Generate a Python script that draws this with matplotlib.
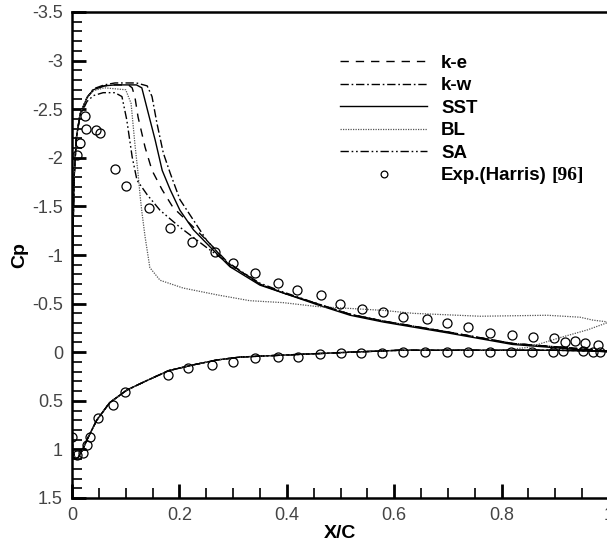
import numpy as np
import matplotlib
matplotlib.use('Agg')
import matplotlib.pyplot as plt
from matplotlib.ticker import MultipleLocator, FormatStrFormatter

plt.rcParams['font.family'] = ['Liberation Sans', 'DejaVu Sans']
plt.rcParams['axes.unicode_minus'] = False

# upper surface, leading edge -> trailing edge
ke_x = [0.0, 0.001, 0.004, 0.008, 0.015, 0.028, 0.04, 0.06, 0.08, 0.105, 0.112, 0.117, 0.123, 0.136,
        0.149, 0.168, 0.188, 0.22, 0.251, 0.289, 0.35, 0.393, 0.456, 0.518, 0.58, 0.698, 0.82, 0.914, 1.0]
ke_cp = [0.9, -1.0, -1.8, -2.2, -2.45, -2.62, -2.70, -2.74, -2.75, -2.75, -2.72, -2.63, -2.42, -2.11,
         -1.87, -1.67, -1.49, -1.32, -1.15, -0.93, -0.70, -0.61, -0.50, -0.39, -0.32, -0.21, -0.09, -0.05, -0.01]

kw_x = [0.0, 0.001, 0.004, 0.008, 0.015, 0.028, 0.04, 0.06, 0.08, 0.12, 0.14, 0.149, 0.158, 0.17,
        0.183, 0.201, 0.226, 0.251, 0.289, 0.35, 0.393, 0.456, 0.518, 0.58, 0.698, 0.82, 0.914, 1.0]
kw_cp = [0.9, -1.0, -1.8, -2.2, -2.45, -2.62, -2.71, -2.75, -2.77, -2.77, -2.74, -2.63, -2.36, -2.05,
         -1.84, -1.57, -1.36, -1.15, -0.92, -0.70, -0.61, -0.50, -0.39, -0.32, -0.21, -0.09, -0.05, -0.01]

sst_x = [0.0, 0.001, 0.004, 0.008, 0.015, 0.028, 0.04, 0.06, 0.08, 0.12, 0.13, 0.142, 0.155, 0.168,
         0.183, 0.201, 0.226, 0.263, 0.294, 0.35, 0.393, 0.456, 0.518, 0.58, 0.698, 0.82, 0.914, 1.0]
sst_cp = [0.9, -1.0, -1.8, -2.2, -2.45, -2.62, -2.70, -2.74, -2.75, -2.75, -2.72, -2.46, -2.18, -1.87,
          -1.67, -1.46, -1.26, -1.05, -0.88, -0.69, -0.61, -0.49, -0.38, -0.31, -0.20, -0.08, -0.04, 0.0]

bl_x = [0.0, 0.001, 0.004, 0.008, 0.015, 0.028, 0.04, 0.06, 0.1, 0.11, 0.117, 0.123, 0.127, 0.13,
        0.136, 0.145, 0.164, 0.207, 0.27, 0.331, 0.393, 0.456, 0.518, 0.58, 0.635, 0.76, 0.885,
        0.946, 0.97, 1.0]
bl_cp = [0.9, -1.0, -1.8, -2.2, -2.45, -2.62, -2.69, -2.72, -2.70, -2.56, -2.15, -1.84, -1.6, -1.45,
         -1.19, -0.87, -0.74, -0.66, -0.59, -0.53, -0.51, -0.47, -0.45, -0.43, -0.40, -0.37, -0.38,
         -0.36, -0.33, -0.31]

sa_x = [0.0, 0.001, 0.004, 0.008, 0.015, 0.028, 0.04, 0.058, 0.08, 0.093, 0.102, 0.112, 0.121, 0.14,
        0.164, 0.2, 0.25, 0.29, 0.35, 0.393, 0.456, 0.518, 0.58, 0.698, 0.82, 0.914, 1.0]
sa_cp = [0.9, -1.0, -1.8, -2.2, -2.43, -2.58, -2.64, -2.67, -2.67, -2.63, -2.39, -2.01, -1.77, -1.62,
         -1.46, -1.29, -1.08, -0.92, -0.71, -0.62, -0.50, -0.39, -0.32, -0.21, -0.09, -0.05, -0.01]

# lower surface (common to all models), BL deviates near trailing edge
low_x = [0.0, 0.002, 0.006, 0.012, 0.02, 0.028, 0.046, 0.07, 0.102, 0.14, 0.18, 0.226, 0.27,
         0.313, 0.393, 0.518, 0.61, 0.8, 0.9, 1.0]
low_cp = [0.9, 1.02, 1.1, 1.08, 1.0, 0.9, 0.70, 0.52, 0.39, 0.29, 0.19, 0.13, 0.08,
          0.05, 0.03, 0.0, -0.02, -0.02, -0.02, -0.01]
bl_low_x = [0.0, 0.002, 0.006, 0.012, 0.02, 0.028, 0.046, 0.07, 0.102, 0.14, 0.18, 0.226, 0.27,
            0.313, 0.393, 0.518, 0.61, 0.8, 0.85, 0.909, 0.96, 1.0]
bl_low_cp = [0.9, 1.02, 1.1, 1.08, 1.0, 0.9, 0.70, 0.52, 0.39, 0.29, 0.19, 0.13, 0.08,
             0.05, 0.03, 0.0, -0.02, -0.02, -0.05, -0.15, -0.23, -0.31]

# experiment (Harris)
exp_x = [0.009, 0.015, 0.024, 0.026, 0.044, 0.053, 0.081, 0.10, 0.143, 0.183, 0.223, 0.266, 0.30,
         0.341, 0.384, 0.419, 0.464, 0.499, 0.54, 0.579, 0.616, 0.661, 0.698, 0.737, 0.778, 0.819,
         0.858, 0.898, 0.918, 0.937, 0.955, 0.98,
         0.0, 0.009, 0.02, 0.028, 0.033, 0.049, 0.077, 0.099, 0.179, 0.216, 0.26, 0.30, 0.341,
         0.384, 0.42, 0.462, 0.50, 0.538, 0.577, 0.616, 0.657, 0.698, 0.737, 0.778, 0.817, 0.857,
         0.896, 0.914, 0.952, 0.97, 0.983]
exp_cp = [-2.03, -2.15, -2.43, -2.30, -2.29, -2.25, -1.88, -1.71, -1.48, -1.28, -1.13, -1.03, -0.92,
          -0.81, -0.71, -0.64, -0.59, -0.50, -0.44, -0.41, -0.36, -0.34, -0.30, -0.26, -0.20, -0.18,
          -0.16, -0.15, -0.10, -0.12, -0.09, -0.07,
          0.87, 1.06, 1.04, 0.95, 0.87, 0.68, 0.54, 0.41, 0.23, 0.16, 0.13, 0.10, 0.06,
          0.05, 0.05, 0.02, 0.01, 0.01, 0.01, 0.0, 0.0, 0.0, 0.0, 0.0, 0.0, 0.0,
          0.0, -0.01, -0.01, 0.0, 0.0]


def surface(ux, ucp, lx, lcp):
    return list(ux[::-1]) + list(lx), list(ucp[::-1]) + list(lcp)


fig = plt.figure(figsize=(6.07, 5.46), dpi=100)
ax = fig.add_axes([72 / 607, 48 / 546, 537 / 607, 486 / 546])

styles = [
    ('k-e', ke_x, ke_cp, low_x, low_cp, (0, (6, 5)), 'black', 1.0),
    ('k-w', kw_x, kw_cp, low_x, low_cp, (0, (6, 2, 1.2, 2)), 'black', 1.0),
    ('SST', sst_x, sst_cp, low_x, low_cp, '-', 'black', 1.0),
    ('BL', bl_x, bl_cp, bl_low_x, bl_low_cp, (0, (1, 1)), '#555555', 0.9),
    ('SA', sa_x, sa_cp, low_x, low_cp, (0, (6, 2, 1.2, 2, 1.2, 2)), 'black', 1.0),
]
for name, ux, ucp, lx, lcp, ls, col, lw in styles:
    xs, cps = surface(ux, ucp, lx, lcp)
    ax.plot(xs, cps, linestyle=ls, color=col, lw=lw, label=name)

ax.plot(exp_x, exp_cp, 'o', mfc='none', mec='black', ms=6.5, mew=0.9,
        label='Exp.(Harris)')

ax.set_xlim(0, 1)
ax.set_ylim(1.5, -3.5)
ax.xaxis.set_major_locator(MultipleLocator(0.2))
ax.xaxis.set_minor_locator(MultipleLocator(0.05))
ax.yaxis.set_major_locator(MultipleLocator(0.5))
ax.yaxis.set_minor_locator(MultipleLocator(0.1))
ax.xaxis.set_major_formatter(FormatStrFormatter('%g'))
ax.yaxis.set_major_formatter(FormatStrFormatter('%g'))
ax.tick_params(which='both', direction='in', top=False, right=False,
               labelsize=13, labelcolor='#444444', pad=6.5)
ax.tick_params(which='major', length=10, width=2)
ax.tick_params(which='minor', length=7, width=1.2)
for s in ['left', 'bottom', 'top']:
    ax.spines[s].set_linewidth(1.8)
ax.spines['right'].set_linewidth(1.0)

ax.set_xlabel('X/C', fontsize=14, fontweight='bold', labelpad=1)
ax.set_ylabel('Cp', fontsize=14, fontweight='bold', labelpad=3)

leg = ax.legend(loc='upper left', bbox_to_anchor=(340 / 607, 1 - 54.5 / 546),
                bbox_transform=fig.transFigure, frameon=False, borderpad=0,
                borderaxespad=0, handlelength=4.64, handletextpad=0.75,
                labelspacing=0.29, markerscale=0.75,
                prop={'weight': 'bold', 'size': 13.5})

fig.canvas.draw()
r = fig.canvas.get_renderer()
bb = leg.get_texts()[-1].get_window_extent(r)
inv = fig.transFigure.inverted()
x0, y0 = inv.transform((bb.x1 + 5, (bb.y0 + bb.y1) / 2))
fig.text(x0, y0, '[96]', family='Liberation Serif', fontweight='bold',
         fontsize=14, va='center', ha='left')

fig.savefig('out.png', dpi=100)
